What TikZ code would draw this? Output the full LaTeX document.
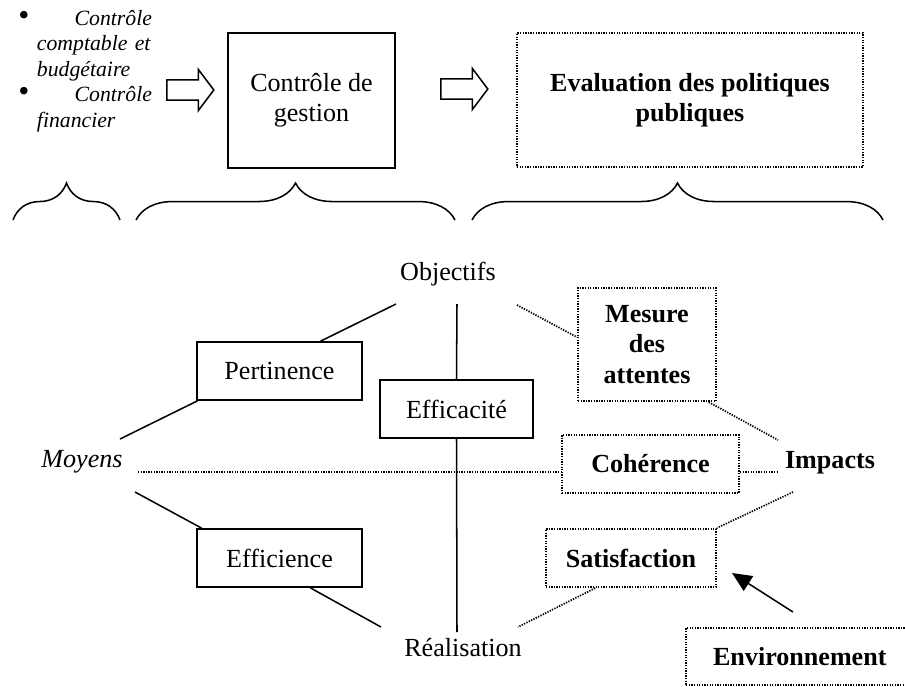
\documentclass[tikz,border=0pt]{standalone}
\usepackage{fontspec}
\setmainfont{Liberation Serif}
\usetikzlibrary{shapes.arrows,decorations.pathreplacing,arrows.meta}

\tikzset{
	kasten/.style={draw, line width=0.8pt, inner sep=0pt, align=center,
		font=\fontsize{12}{14}\selectfont},
	punktkasten/.style={kasten, line width=1pt, dash pattern=on 0.6pt off 0.6pt,
		font=\fontsize{12}{14}\selectfont\bfseries},
	wort/.style={inner sep=0pt, font=\fontsize{12}{14}\selectfont},
	linie/.style={line width=0.7pt},
	punktlinie/.style={line width=0.8pt, dash pattern=on 0.6pt off 0.6pt},
	blockpfeil/.style={draw, single arrow, line width=0.7pt, inner sep=4.35pt,
		minimum height=21.6pt, single arrow head extend=4.8pt,
		single arrow tip angle=106},
	klammer/.style={decorate, decoration={brace, amplitude=17pt}, line width=0.7pt}
}

\begin{document}
\begin{tikzpicture}[x=0.46pt, y=-0.46pt]
	\useasboundingbox (0,0) rectangle (905,686);

	% obere Reihe
	\node[wort, text width=61.6pt, align=left, font=\fontsize{10}{11.7}\selectfont\itshape]
		(klassisch) at (85,71) {{\Large\textbullet}\hfill Contrôle\\
		\hspace*{8.7pt}comptable et\\
		\hspace*{8.7pt}budgétaire\\
		{\Large\textbullet}\hfill Contrôle\\
		\hspace*{8.7pt}financier};
	\node[blockpfeil] (pfeilA) at (186.5,90) {};
	\node[kasten, minimum width=76.8pt, minimum height=62.1pt] (gestion)
		at (311.5,100.5) {Contrôle de\\gestion};
	\node[blockpfeil] (pfeilB) at (460.5,89) {};
	\node[punktkasten, minimum width=159.2pt, minimum height=61.6pt] (evaluation)
		at (690,100) {Evaluation des politiques\\publiques};

	% Klammern
	\coordinate (k1a) at (13,220);
	\coordinate (k1b) at (120,220);
	\coordinate (k2a) at (136,220);
	\coordinate (k2b) at (455,220);
	\coordinate (k3a) at (472,220);
	\coordinate (k3b) at (883,220);
	\draw[klammer] (k1a) -- (k1b);
	\draw[klammer] (k2a) -- (k2b);
	\draw[klammer] (k3a) -- (k3b);

	% Begriffe
	\node[wort] (objectifs) at (448,274) {Objectifs};
	\node[wort] (realisation) at (463,648) {Réalisation};
	\node[wort, font=\fontsize{12}{14}\selectfont\itshape] (moyens) at (82,462) {Moyens};
	\node[wort, font=\fontsize{12}{14}\selectfont\bfseries] (impacts) at (830,463) {Impacts};

	% Kaesten
	\node[kasten, minimum width=75.9pt, minimum height=26.7pt] (pertinence)
		at (279.5,371) {Pertinence};
	\node[kasten, minimum width=75.9pt, minimum height=26.7pt] (efficience)
		at (279.5,558) {Efficience};
	\node[kasten, minimum width=70.4pt, minimum height=26.7pt] (efficacite)
		at (456.5,409) {Efficacité};
	\node[punktkasten, minimum width=63.5pt, minimum height=52pt] (mesure)
		at (647,344.5) {Mesure\\des\\attentes};
	\node[punktkasten, minimum width=81.4pt, minimum height=26.7pt] (coherence)
		at (650.5,464) {Cohérence};
	\node[punktkasten, minimum width=78.2pt, minimum height=26.7pt] (satisfaction)
		at (631,558) {Satisfaction};
	% rechts abgeschnitten
	\node[punktkasten, anchor=west, text width=150pt, align=left,
		minimum height=26.2pt] (environnement)
		at (685,656.5) {\hspace*{12.4pt}Environnement};

	% Enden der Linien
	\coordinate (o1) at (396,304);
	\coordinate (o2) at (457,304);
	\coordinate (o3) at (517,305);
	\coordinate (m1) at (120,439);
	\coordinate (m2) at (138,472);
	\coordinate (m3) at (135,492);
	\coordinate (r1) at (381,627);
	\coordinate (r2) at (457,632);
	\coordinate (r3) at (518,627);
	\coordinate (i1) at (778,440);
	\coordinate (i2) at (777,472);
	\coordinate (i3) at (793,492);
	\coordinate (u1) at (793,612);
	\coordinate (u2) at (732,573);

	% Verbindungen
	\draw[linie] (o1) -- (pertinence.36);
	\draw[linie] (pertinence.-160) -- (m1);
	\draw[linie] (m3) -- (efficience.159);
	\draw[linie] (efficience.-44) -- (r1);
	\draw[linie] (o2) -- (efficacite.north);
	\draw[linie] (efficacite.south) -- (r2);
	\draw[punktlinie] (m2) -- (coherence.west |- m2);
	\draw[punktlinie] (coherence.east |- m2) -- (i2);
	\draw[punktlinie] (o3) -- (mesure.174);
	\draw[punktlinie] (mesure.-43) -- (i1);
	\draw[punktlinie] (i3) -- (satisfaction.north east);
	\draw[punktlinie] (satisfaction.-140) -- (r3);
	\draw[linie, -{Triangle[length=9pt, width=8pt]}] (u1) -- (u2);
\end{tikzpicture}
\end{document}
